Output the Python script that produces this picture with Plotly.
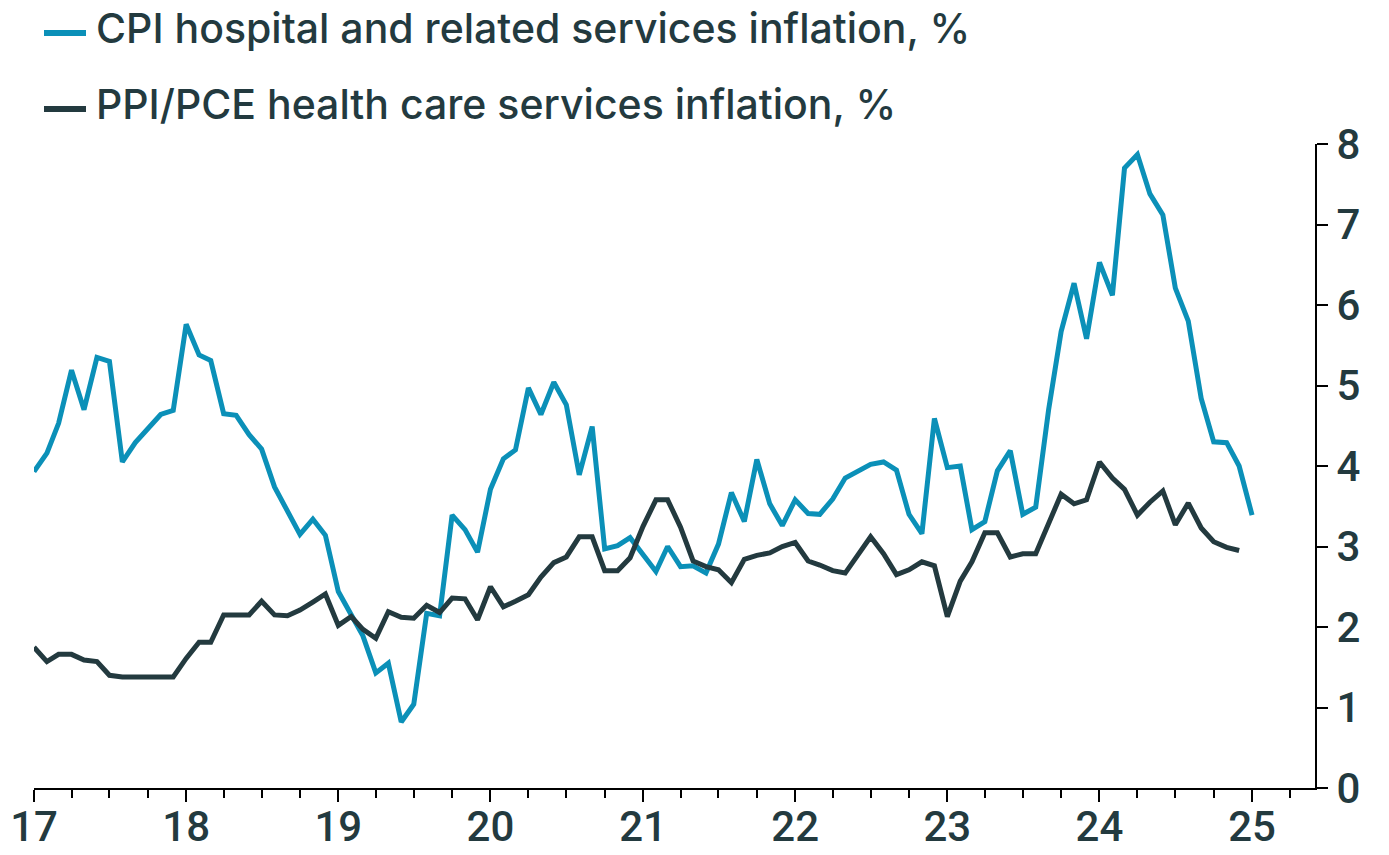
import pandas as pd
import plotly.graph_objects as go

# Monthly year-over-year inflation rates, %
cpi_start = "2017-01-01"
cpi_hospital = [
    3.93, 4.16, 4.53, 5.19, 4.70, 5.35, 5.30, 4.05, 4.29, 4.47, 4.64, 4.69,  # 2017
    5.76, 5.38, 5.31, 4.65, 4.63, 4.39, 4.21, 3.74, 3.44, 3.15, 3.34, 3.14,  # 2018
    2.44, 2.15, 1.89, 1.43, 1.55, 0.82, 1.04, 2.17, 2.14, 3.39, 3.21, 2.93,  # 2019
    3.71, 4.09, 4.20, 4.97, 4.64, 5.04, 4.76, 3.89, 4.49, 2.97, 3.01, 3.11,  # 2020
    2.90, 2.69, 3.00, 2.75, 2.76, 2.67, 3.03, 3.67, 3.31, 4.08, 3.53, 3.26,  # 2021
    3.58, 3.41, 3.40, 3.59, 3.85, 3.93, 4.02, 4.05, 3.95, 3.40, 3.16, 4.59,  # 2022
    3.98, 4.00, 3.21, 3.31, 3.94, 4.19, 3.40, 3.49, 4.70, 5.67, 6.27, 5.58,  # 2023
    6.53, 6.12, 7.70, 7.87, 7.38, 7.12, 6.21, 5.80, 4.84, 4.30, 4.29, 4.00,  # 2024
    3.39,                                                                    # 2025
]

ppi_start = "2017-01-01"
ppi_pce_health = [
    1.75, 1.57, 1.66, 1.66, 1.59, 1.57, 1.40, 1.38, 1.38, 1.38, 1.38, 1.38,  # 2017
    1.61, 1.81, 1.81, 2.15, 2.15, 2.15, 2.32, 2.15, 2.14, 2.21, 2.31, 2.41,  # 2018
    2.02, 2.13, 1.97, 1.86, 2.19, 2.12, 2.11, 2.27, 2.18, 2.36, 2.35, 2.09,  # 2019
    2.50, 2.25, 2.32, 2.40, 2.62, 2.80, 2.87, 3.12, 3.12, 2.70, 2.70, 2.86,  # 2020
    3.25, 3.58, 3.58, 3.24, 2.82, 2.75, 2.71, 2.55, 2.84, 2.89, 2.92, 3.00,  # 2021
    3.05, 2.82, 2.77, 2.70, 2.67, 2.89, 3.12, 2.91, 2.65, 2.71, 2.81, 2.76,  # 2022
    2.13, 2.57, 2.81, 3.17, 3.17, 2.87, 2.91, 2.91, 3.27, 3.65, 3.53, 3.58,  # 2023
    4.05, 3.85, 3.71, 3.39, 3.55, 3.69, 3.27, 3.54, 3.23, 3.06, 2.99, 2.95,  # 2024
]

series_names = [
    "CPI hospital and related services inflation, %",
    "PPI/PCE health care services inflation, %",
]
series_colors = ["#0b90b8", "#233a3f"]

y_ticks = [0, 1, 2, 3, 4, 5, 6, 7, 8]
x_range = ["2017-01-01", "2025-06-01"]

TEXT = "#233a3f"
TICK_FONT = "Roboto"
LEGEND_FONT = "Inter"

W, H = 1389, 855
M = dict(l=34, r=74, t=144, b=67)
plot_w = W - M["l"] - M["r"]
plot_h = H - M["t"] - M["b"]


def px_to_paper(px, py):
    """Convert a page pixel position to paper coordinates."""
    return (px - M["l"]) / plot_w, (H - M["b"] - py) / plot_h


cpi_dates = pd.date_range(cpi_start, periods=len(cpi_hospital), freq="MS")
ppi_dates = pd.date_range(ppi_start, periods=len(ppi_pce_health), freq="MS")

fig = go.Figure()
fig.add_trace(go.Scatter(
    x=cpi_dates, y=cpi_hospital, mode="lines", name=series_names[0],
    line=dict(color=series_colors[0], width=5),
))
fig.add_trace(go.Scatter(
    x=ppi_dates, y=ppi_pce_health, mode="lines", name=series_names[1],
    line=dict(color=series_colors[1], width=5),
))

# Legend drawn as key lines plus labels above the plot area
legend_rows_y = [33, 109]
for name, color, row_y in zip(series_names, series_colors, legend_rows_y):
    x0, y0 = px_to_paper(44, row_y)
    x1, _ = px_to_paper(86, row_y)
    fig.add_shape(type="line", xref="paper", yref="paper",
                  x0=x0, x1=x1, y0=y0, y1=y0,
                  line=dict(color=color, width=6))
    tx, ty = px_to_paper(94, row_y - 5)
    fig.add_annotation(xref="paper", yref="paper", x=tx, y=ty,
                       xanchor="left", yanchor="middle", showarrow=False,
                       text=name,
                       font=dict(family=LEGEND_FONT, size=41, color=TEXT,
                                 weight=500))

fig.update_layout(
    width=W, height=H,
    margin=M,
    paper_bgcolor="white", plot_bgcolor="white",
    font=dict(family=TICK_FONT, color=TEXT, size=40),
    showlegend=False,
    xaxis=dict(
        type="date", range=x_range, automargin=False,
        tickformat="%y", dtick="M12", tick0="2017-01-01",
        ticks="outside", ticklen=12, tickwidth=2, tickcolor="black",
        showline=True, linecolor="black", linewidth=2,
        showgrid=False, zeroline=False,
        ticklabelstandoff=-11,
        tickfont=dict(family=TICK_FONT, size=42, color=TEXT, weight=500),
        minor=dict(ticks="outside", ticklen=8, tickwidth=2, tickcolor="black",
                   dtick="M3", showgrid=False),
    ),
    yaxis=dict(
        range=[0, 8], side="right", tickvals=y_ticks, automargin=False,
        ticks="outside", ticklen=11, tickwidth=2, tickcolor="black",
        showline=True, linecolor="black", linewidth=2,
        showgrid=False, zeroline=False,
        tickfont=dict(family=TICK_FONT, size=42, color=TEXT, weight=500),
    ),
)

fig.write_html("out.html")
